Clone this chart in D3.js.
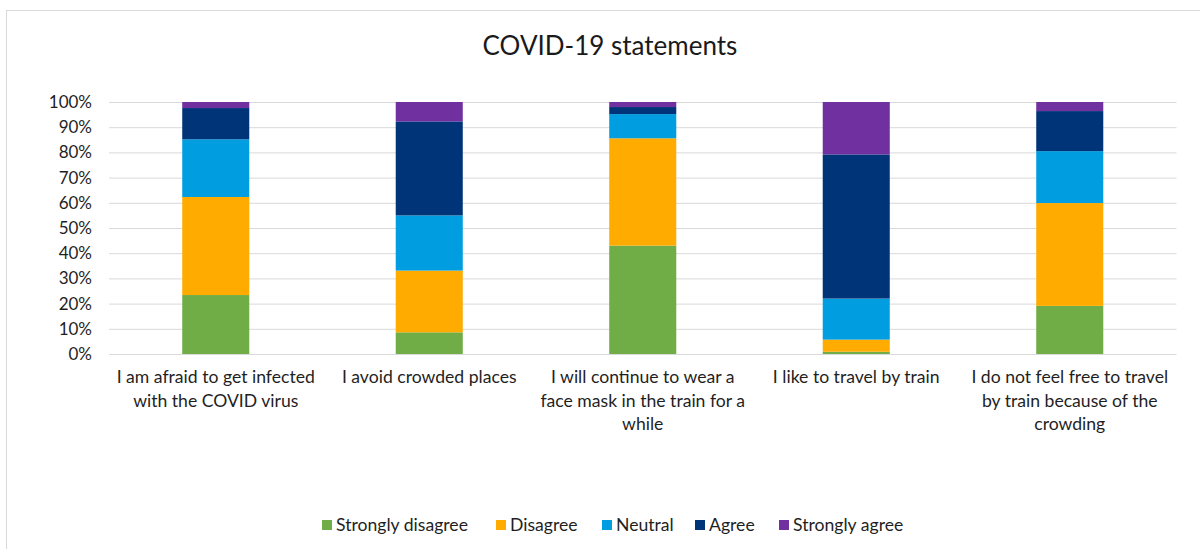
<!DOCTYPE html>
<html>
<head>
<meta charset="utf-8">
<script src="https://cdn.jsdelivr.net/npm/d3@7/dist/d3.min.js"></script>
<style>
  html, body { margin: 0; padding: 0; background: #fff; }
  svg { display: block; font-family: Lato, "Open Sans", sans-serif; }
</style>
</head>
<body>
<svg id="chart" width="1200" height="549"></svg>
<script>
// Survey statements (x categories)
const statements = [
  "I am afraid to get infected with the COVID virus",
  "I avoid crowded places",
  "I will continue to wear a face mask in the train for a while",
  "I like to travel by train",
  "I do not feel free to travel by train because of the crowding"
];

// Response levels, bottom to top of each stack
const responses = ["Strongly disagree", "Disagree", "Neutral", "Agree", "Strongly agree"];

// Share of respondents (%) per statement, one array per response level
const stronglyDisagree = [23.4, 8.6, 43.0, 0.9, 19.1];
const disagree         = [38.9, 24.5, 42.6, 4.8, 40.8];
const neutral          = [22.9, 21.9, 9.6, 16.3, 20.6];
const agree            = [12.4, 37.3, 2.8, 57.2, 15.9];
const stronglyAgree    = [2.4, 7.7, 2.0, 20.8, 3.6];

const yTicks = [0, 10, 20, 30, 40, 50, 60, 70, 80, 90, 100];

const colors = ["#70ad47", "#ffab00", "#009ee0", "#003478", "#7030a0"];

const seriesValues = [stronglyDisagree, disagree, neutral, agree, stronglyAgree];
const rows = statements.map((s, i) => {
  const row = { statement: s };
  responses.forEach((r, k) => { row[r] = seriesValues[k][i]; });
  return row;
});

const svg = d3.select("#chart");

// Chart area frame
svg.append("rect")
  .attr("x", 6.5).attr("y", 10.5)
  .attr("width", 1210).attr("height", 560)
  .attr("fill", "#fff")
  .attr("stroke", "#d9d9d9")
  .attr("stroke-width", 1);

const plot = { left: 109, right: 1176.5, top: 102, bottom: 354 };

const x = d3.scaleBand()
  .domain(statements)
  .range([plot.left, plot.right])
  .paddingInner(0.686)
  .paddingOuter(0.343);

const y = d3.scaleLinear()
  .domain([0, 100])
  .range([plot.bottom, plot.top]);

// Title
svg.append("text")
  .attr("x", 610).attr("y", 55)
  .attr("text-anchor", "middle")
  .attr("font-size", 26)
  .attr("fill", "#1a1a1a")
  .text("COVID-19 statements");

// Gridlines + y labels
const yAxis = d3.axisLeft(y)
  .tickValues(yTicks)
  .tickSize(-(plot.right - plot.left))
  .tickPadding(17)
  .tickFormat(d => d + "%");

const gy = svg.append("g")
  .attr("transform", `translate(${plot.left},0)`)
  .call(yAxis);
gy.select(".domain").remove();
gy.selectAll(".tick line").attr("stroke", "#d9d9d9").attr("stroke-width", 1);
gy.selectAll(".tick text")
  .attr("font-size", 17)
  .attr("font-family", "Lato, sans-serif")
  .attr("fill", "#1f1f1f");

// Stacked bars
const stack = d3.stack().keys(responses);
const layers = stack(rows);

svg.append("g").selectAll("g")
  .data(layers)
  .join("g")
  .attr("fill", (d, i) => colors[i])
  .selectAll("rect")
  .data(d => d)
  .join("rect")
  .attr("x", d => x(d.data.statement))
  .attr("width", x.bandwidth())
  .attr("y", d => y(d[1]))
  .attr("height", d => y(d[0]) - y(d[1]));

// Category labels, wrapped to the slot width
const xAxis = d3.axisBottom(x).tickSize(0).tickPadding(0);
const gx = svg.append("g")
  .attr("transform", `translate(0,${plot.bottom})`)
  .call(xAxis);
gx.select(".domain").remove();
gx.selectAll(".tick text")
  .attr("font-size", 17.6)
  .attr("font-family", "Lato, sans-serif")
  .attr("fill", "#1f1f1f")
  .each(function(label) {
    const t = d3.select(this);
    const words = label.split(/\s+/);
    t.text(null);
    const maxW = 214;
    let line = [];
    let lineNo = 0;
    let tspan = t.append("tspan").attr("x", 0).attr("y", 29);
    words.forEach(w => {
      line.push(w);
      tspan.text(line.join(" "));
      if (tspan.node().getComputedTextLength() > maxW && line.length > 1) {
        line.pop();
        tspan.text(line.join(" "));
        line = [w];
        lineNo++;
        tspan = t.append("tspan").attr("x", 0).attr("y", 29 + lineNo * 23.5).text(w);
      }
    });
  })
  .attr("dy", null);

// Legend
const legendX = [322, 496, 602, 695, 779];
const legend = svg.append("g");
responses.forEach((r, i) => {
  const g = legend.append("g").attr("transform", `translate(${legendX[i]},525)`);
  g.append("rect").attr("x", 0).attr("y", -5).attr("width", 10).attr("height", 10).attr("fill", colors[i]);
  g.append("text").attr("x", 14).attr("y", 6)
    .attr("font-size", 17.6).attr("fill", "#1f1f1f").text(r);
});
</script>
</body>
</html>
